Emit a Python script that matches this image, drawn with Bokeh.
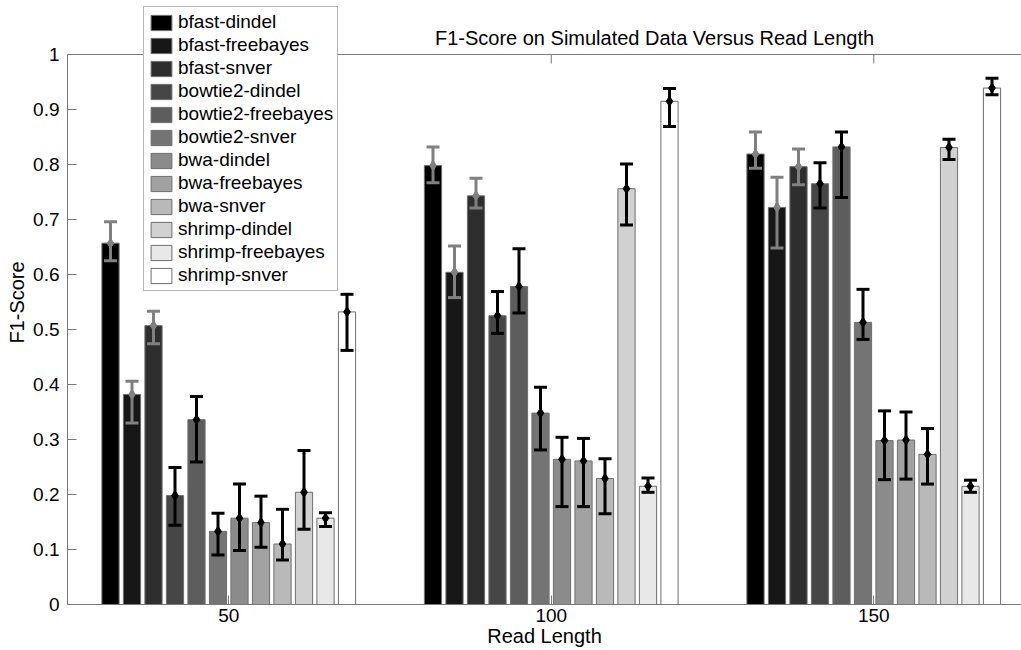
from bokeh.plotting import figure
from bokeh.models import (Range1d, FixedTicker, Legend, LegendItem, ColumnDataSource,
                          Span, Label)
from bokeh.embed import file_html
from bokeh.resources import INLINE

title_text = "F1-Score on Simulated Data Versus Read Length"
read_lengths = ["50", "100", "150"]
methods = ["bfast-dindel", "bfast-freebayes", "bfast-snver",
           "bowtie2-dindel", "bowtie2-freebayes", "bowtie2-snver",
           "bwa-dindel", "bwa-freebayes", "bwa-snver",
           "shrimp-dindel", "shrimp-freebayes", "shrimp-snver"]
bar_colors = ["#000000", "#171717", "#2e2e2e", "#464646", "#5d5d5d", "#747474",
              "#8b8b8b", "#a2a2a2", "#b9b9b9", "#d1d1d1", "#e8e8e8", "#ffffff"]
err_colors = ["#808080"] * 3 + ["#000000"] * 9

# mean F1-score per method, one list per read length
f1_50 = [0.657, 0.382, 0.507, 0.198, 0.336, 0.133, 0.157, 0.149, 0.110, 0.204, 0.157, 0.532]
hi_50 = [0.696, 0.406, 0.533, 0.249, 0.378, 0.166, 0.219, 0.197, 0.173, 0.280, 0.167, 0.564]
lo_50 = [0.625, 0.330, 0.474, 0.144, 0.259, 0.090, 0.098, 0.104, 0.081, 0.137, 0.142, 0.462]

f1_100 = [0.798, 0.604, 0.743, 0.525, 0.578, 0.348, 0.264, 0.261, 0.229, 0.756, 0.215, 0.915]
hi_100 = [0.832, 0.652, 0.775, 0.569, 0.647, 0.395, 0.304, 0.302, 0.265, 0.801, 0.230, 0.938]
lo_100 = [0.767, 0.558, 0.721, 0.493, 0.530, 0.281, 0.178, 0.178, 0.165, 0.690, 0.204, 0.869]

f1_150 = [0.819, 0.722, 0.796, 0.765, 0.832, 0.513, 0.298, 0.299, 0.273, 0.831, 0.215, 0.939]
hi_150 = [0.859, 0.777, 0.828, 0.803, 0.859, 0.573, 0.352, 0.350, 0.320, 0.846, 0.226, 0.957]
lo_150 = [0.793, 0.648, 0.763, 0.721, 0.740, 0.482, 0.227, 0.228, 0.219, 0.809, 0.204, 0.927]

y_ticks = [0, 0.1, 0.2, 0.3, 0.4, 0.5, 0.6, 0.7, 0.8, 0.9, 1]
y_tick_labels = ["0", "0.1", "0.2", "0.3", "0.4", "0.5", "0.6", "0.7", "0.8", "0.9", "1"]

FONT = "Liberation Sans"
AX_COLOR = "#7a7a7a"

means = [f1_50, f1_100, f1_150]
highs = [hi_50, hi_100, hi_150]
lows = [lo_50, lo_100, lo_150]
groups = [1, 2, 3]
n = len(methods)
pitch = 0.8 / n
bar_w = pitch * 0.8

# frame: x from pixel 67 to 1021 (322.5 px per group), y from pixel 0 to 604 (550 px per unit)
PX_X = 322.5
PX_Y = 550.0
p = figure(width=1021, height=650,
           x_range=Range1d(0.5, 0.5 + 954 / PX_X), y_range=Range1d(0, 604 / PX_Y),
           output_backend="svg", toolbar_location=None, title_location=None,
           min_border_left=67, min_border_right=0, min_border_top=0, min_border_bottom=46)
p.outline_line_color = None
p.xgrid.visible = False
p.ygrid.visible = False
p.background_fill_color = "white"
p.border_fill_color = "white"

renderers = []
for i, m in enumerate(methods):
    xs = [g + (i - (n - 1) / 2) * pitch for g in groups]
    tops = [means[k][i] for k in range(3)]
    src = ColumnDataSource(dict(x=xs, top=tops))
    r = p.vbar(x="x", top="top", bottom=0, width=bar_w, source=src,
               fill_color=bar_colors[i], line_color="#6e6e6e", line_width=1)
    renderers.append(r)

for i, m in enumerate(methods):
    xs = [g + (i - (n - 1) / 2) * pitch for g in groups]
    src = ColumnDataSource(dict(x=xs,
                                mean=[means[k][i] for k in range(3)],
                                hi=[highs[k][i] for k in range(3)],
                                lo=[lows[k][i] for k in range(3)]))
    c = err_colors[i]
    p.segment(x0="x", y0="lo", x1="x", y1="hi", source=src, line_color=c, line_width=3)
    p.scatter(x="x", y="hi", source=src, marker="dash", size=13, line_color=c, line_width=3)
    p.scatter(x="x", y="lo", source=src, marker="dash", size=13, line_color=c, line_width=3)
    p.scatter(x="x", y="mean", source=src, marker="diamond", size=10, fill_color=c, line_color=c)

# top box line with inward ticks
p.add_layout(Span(location=1, dimension="width", line_color=AX_COLOR, line_width=1))
p.segment(x0=groups, y0=[1] * 3, x1=groups, y1=[1 - 9 / PX_Y] * 3, line_color=AX_COLOR, line_width=1)

# axes
xax = p.xaxis[0]
xax.ticker = FixedTicker(ticks=groups)
xax.major_label_overrides = {g: lab for g, lab in zip(groups, read_lengths)}
xax.axis_label = "Read Length"
yax = p.yaxis[0]
yax.ticker = FixedTicker(ticks=y_ticks)
yax.major_label_overrides = {t: lab for t, lab in zip(y_ticks, y_tick_labels)}
yax.axis_label = "F1-Score"
yax.bounds = (0, 1)

for ax in (xax, yax):
    ax.axis_line_color = AX_COLOR
    ax.major_tick_line_color = AX_COLOR
    ax.major_tick_in = 9
    ax.major_tick_out = 0
    ax.minor_tick_line_color = None
    ax.major_label_text_font = FONT
    ax.major_label_text_font_size = "19px"
    ax.major_label_text_color = "black"
    ax.axis_label_text_font = FONT
    ax.axis_label_text_font_size = "20px"
    ax.axis_label_text_font_style = "normal"
    ax.axis_label_text_color = "black"
xax.major_label_standoff = 4
xax.axis_label_standoff = 0
yax.major_label_standoff = 8
yax.axis_label_standoff = 2

# title inside the (extended) frame, above the box
p.add_layout(Label(x=0.5 + (654 - 67) / PX_X, y=(604 - 37) / PX_Y, text=title_text,
                   text_align="center", text_baseline="alphabetic",
                   text_font=FONT, text_font_size="20px", text_color="black"))

legend = Legend(items=[LegendItem(label=m, renderers=[r]) for m, r in zip(methods, renderers)],
                location=(76, 313), padding=4, margin=0, spacing=1,
                glyph_width=26, glyph_height=19, label_height=19, label_standoff=4,
                label_text_font=FONT, label_text_font_size="19px", label_text_color="black",
                border_line_color="#6e6e6e", border_line_width=1,
                background_fill_color="white", background_fill_alpha=1)
p.add_layout(legend, "center")

open("out.html", "w").write(file_html(p, INLINE))
